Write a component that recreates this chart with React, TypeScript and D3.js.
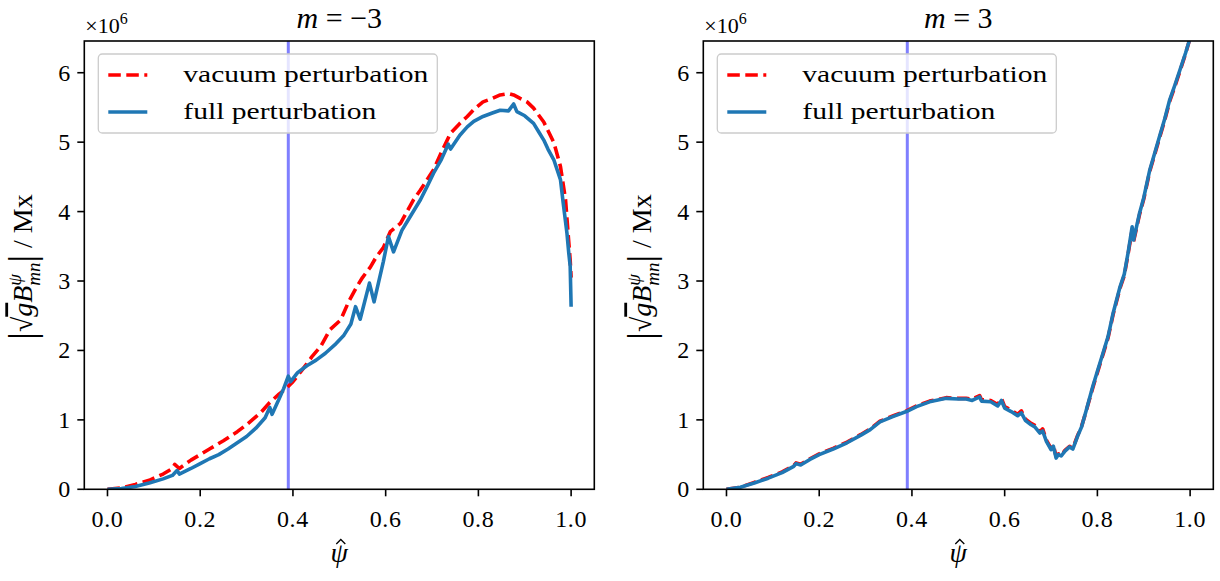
import React from "react";
import * as d3 from "d3";

// ---------- data (values in units of 1e6 Mx) ----------
const leftFullX = [0, 0.03, 0.06, 0.09, 0.12, 0.14, 0.15, 0.155, 0.18, 0.2, 0.22, 0.24, 0.26, 0.28, 0.3, 0.32, 0.34, 0.35, 0.355, 0.37, 0.38, 0.39, 0.395, 0.41, 0.43, 0.45, 0.47, 0.49, 0.51, 0.525, 0.535, 0.545, 0.565, 0.575, 0.595, 0.606, 0.617, 0.635, 0.655, 0.675, 0.69, 0.703, 0.72, 0.735, 0.74, 0.76, 0.776, 0.79, 0.81, 0.83, 0.847, 0.865, 0.876, 0.883, 0.9, 0.919, 0.93, 0.941, 0.95, 0.963, 0.977, 0.983, 0.991, 0.995, 0.998, 1.0];
const leftFullY = [0, 0.01, 0.04, 0.09, 0.15, 0.2, 0.27, 0.22, 0.3, 0.37, 0.44, 0.5, 0.58, 0.67, 0.76, 0.88, 1.03, 1.18, 1.08, 1.3, 1.45, 1.63, 1.55, 1.68, 1.78, 1.86, 1.96, 2.08, 2.22, 2.38, 2.63, 2.45, 2.97, 2.7, 3.28, 3.64, 3.42, 3.73, 3.95, 4.17, 4.37, 4.55, 4.75, 4.97, 4.9, 5.1, 5.22, 5.3, 5.37, 5.42, 5.46, 5.45, 5.55, 5.44, 5.38, 5.27, 5.15, 5.03, 4.9, 4.74, 4.46, 4.12, 3.69, 3.4, 3.21, 2.63];

const leftVacX = [0, 0.03, 0.06, 0.09, 0.12, 0.14, 0.145, 0.155, 0.18, 0.2, 0.22, 0.25, 0.28, 0.3, 0.33, 0.35, 0.37, 0.385, 0.4, 0.42, 0.441, 0.46, 0.48, 0.503, 0.52, 0.538, 0.55, 0.567, 0.58, 0.595, 0.61, 0.632, 0.66, 0.675, 0.703, 0.72, 0.74, 0.76, 0.776, 0.79, 0.81, 0.83, 0.847, 0.865, 0.876, 0.89, 0.905, 0.919, 0.941, 0.963, 0.977, 0.988, 0.994, 0.998, 1.0];
const leftVacY = [0, 0.02, 0.07, 0.13, 0.22, 0.3, 0.36, 0.3, 0.42, 0.5, 0.58, 0.7, 0.83, 0.93, 1.1, 1.25, 1.37, 1.45, 1.55, 1.72, 1.91, 2.06, 2.3, 2.44, 2.7, 2.92, 3.05, 3.2, 3.35, 3.48, 3.71, 3.83, 4.17, 4.31, 4.6, 4.85, 5.13, 5.27, 5.37, 5.47, 5.58, 5.63, 5.68, 5.7, 5.68, 5.63, 5.58, 5.49, 5.29, 4.99, 4.65, 4.17, 3.64, 3.3, 3.05];

const rightFullX = [0, 0.03, 0.06, 0.09, 0.12, 0.145, 0.15, 0.16, 0.18, 0.2, 0.23, 0.26, 0.29, 0.31, 0.331, 0.36, 0.388, 0.41, 0.438, 0.474, 0.5, 0.517, 0.53, 0.546, 0.55, 0.57, 0.585, 0.593, 0.6, 0.614, 0.628, 0.636, 0.645, 0.657, 0.665, 0.676, 0.682, 0.69, 0.7, 0.705, 0.711, 0.716, 0.722, 0.73, 0.74, 0.747, 0.757, 0.766, 0.776, 0.79, 0.8, 0.812, 0.823, 0.834, 0.849, 0.858, 0.866, 0.875, 0.878, 0.891, 0.9, 0.913, 0.924, 0.934, 0.945, 0.956, 0.967, 0.978, 0.99, 1.0];
const rightFullY = [0, 0.03, 0.09, 0.16, 0.24, 0.33, 0.37, 0.35, 0.43, 0.5, 0.58, 0.67, 0.78, 0.86, 0.97, 1.05, 1.12, 1.19, 1.26, 1.31, 1.3, 1.3, 1.28, 1.33, 1.27, 1.26, 1.2, 1.28, 1.17, 1.12, 1.06, 1.1, 0.99, 0.93, 0.9, 0.81, 0.84, 0.69, 0.57, 0.62, 0.45, 0.5, 0.48, 0.55, 0.61, 0.58, 0.76, 0.9, 1.14, 1.48, 1.7, 1.96, 2.2, 2.54, 2.92, 3.1, 3.4, 3.78, 3.59, 3.98, 4.2, 4.6, 4.85, 5.08, 5.33, 5.61, 5.82, 6.04, 6.28, 6.5];

const rightVacX = [0, 0.03, 0.06, 0.09, 0.12, 0.145, 0.15, 0.16, 0.18, 0.2, 0.23, 0.26, 0.29, 0.31, 0.331, 0.36, 0.388, 0.41, 0.438, 0.474, 0.5, 0.517, 0.53, 0.546, 0.55, 0.57, 0.585, 0.593, 0.6, 0.614, 0.628, 0.636, 0.645, 0.657, 0.665, 0.676, 0.682, 0.69, 0.7, 0.705, 0.711, 0.716, 0.722, 0.73, 0.74, 0.747, 0.757, 0.766, 0.776, 0.79, 0.8, 0.812, 0.823, 0.834, 0.849, 0.858, 0.866, 0.875, 0.878, 0.891, 0.9, 0.913, 0.924, 0.934, 0.945, 0.956, 0.967, 0.978, 0.99, 1.0];
const rightVacY = [0, 0.03, 0.1, 0.17, 0.25, 0.34, 0.38, 0.36, 0.44, 0.51, 0.59, 0.68, 0.79, 0.87, 0.98, 1.06, 1.13, 1.2, 1.27, 1.32, 1.31, 1.31, 1.3, 1.35, 1.29, 1.28, 1.22, 1.31, 1.19, 1.14, 1.08, 1.13, 1.01, 0.95, 0.92, 0.83, 0.87, 0.71, 0.59, 0.64, 0.47, 0.51, 0.49, 0.56, 0.62, 0.59, 0.77, 0.91, 1.13, 1.46, 1.68, 1.94, 2.18, 2.52, 2.9, 3.08, 3.38, 3.74, 3.57, 3.96, 4.18, 4.58, 4.83, 5.06, 5.31, 5.59, 5.8, 6.02, 6.27, 6.5];

const xTicks = [0.0, 0.2, 0.4, 0.6, 0.8, 1.0];
const yTicks = [0, 1, 2, 3, 4, 5, 6];
const seriesNames = ["vacuum perturbation", "full perturbation"];
const markerPsi = 0.39;
const titles = ["\u22123", "3"];

const FONT = "Liberation Serif";

type PanelProps = {
  left: number;
  title: string;
  vacX: number[];
  vacY: number[];
  fullX: number[];
  fullY: number[];
  id: string;
};

const TOP = 41;
const BOTTOM = 489.3;
const WIDTH = 510;
const LW = 3.6;
const DASH = "12.5,5.5";

function Panel({ left, title, vacX, vacY, fullX, fullY, id }: PanelProps) {
  const x = d3.scaleLinear().domain([-0.05, 1.05]).range([left, left + WIDTH]);
  const y = d3.scaleLinear().domain([0, 6.457]).range([BOTTOM, TOP]);
  const line = d3
    .line<[number, number]>()
    .x((d) => x(d[0]))
    .y((d) => y(d[1]));
  const vac = line(vacX.map((v, i) => [v, vacY[i]]) as [number, number][]) || "";
  const full = line(fullX.map((v, i) => [v, fullY[i]]) as [number, number][]) || "";
  const cx = left + WIDTH / 2;
  const lx = left + 14;
  return (
    <g style={{ fontFamily: FONT }}>
      <defs>
        <clipPath id={id}>
          <rect x={left} y={TOP} width={WIDTH} height={BOTTOM - TOP} />
        </clipPath>
      </defs>
      <g clipPath={`url(#${id})`}>
        <line x1={x(markerPsi)} x2={x(markerPsi)} y1={TOP} y2={BOTTOM} stroke="#0000ff" strokeOpacity={0.5} strokeWidth={3} />
        <path d={vac} fill="none" stroke="#ff0000" strokeWidth={LW} strokeDasharray={DASH} strokeLinejoin="round" />
        <path d={full} fill="none" stroke="#1f77b4" strokeWidth={LW} strokeLinejoin="round" strokeLinecap="butt" />
      </g>
      {/* legend */}
      <rect x={lx} y={54} width={339} height={79} rx={4} fill="#ffffff" fillOpacity={0.8} stroke="#cccccc" strokeWidth={1.3} />
      <line x1={lx + 10} x2={lx + 49} y1={75} y2={75} stroke="#ff0000" strokeWidth={LW} strokeDasharray={DASH} />
      <line x1={lx + 10} x2={lx + 49} y1={112} y2={112} stroke="#1f77b4" strokeWidth={LW} />
      <text x={lx + 85} y={82} fontSize={24} fill="#000" textLength={245} lengthAdjust="spacingAndGlyphs">{seriesNames[0]}</text>
      <text x={lx + 85} y={119} fontSize={24} fill="#000" textLength={193} lengthAdjust="spacingAndGlyphs">{seriesNames[1]}</text>
      {/* frame */}
      <rect x={left} y={TOP} width={WIDTH} height={BOTTOM - TOP} fill="none" stroke="#000" strokeWidth={1.6} />
      {/* x ticks */}
      {xTicks.map((t) => (
        <g key={`x${t}`}>
          <line x1={x(t)} x2={x(t)} y1={BOTTOM} y2={BOTTOM + 7} stroke="#000" strokeWidth={1.6} />
          <text x={x(t)} y={BOTTOM + 38} textAnchor="middle" fontSize={24} letterSpacing={0.6}>{t.toFixed(1)}</text>
        </g>
      ))}
      {/* y ticks */}
      {yTicks.map((t) => (
        <g key={`y${t}`}>
          <line x1={left - 7} x2={left} y1={y(t)} y2={y(t)} stroke="#000" strokeWidth={1.6} />
          <text x={left - 14} y={y(t) + 8} textAnchor="end" fontSize={24}>{t}</text>
        </g>
      ))}
      {/* offset text */}
      <text x={left + 1} y={33} fontSize={22}>
        ×10<tspan dy={-9} fontSize={16}>6</tspan>
      </text>
      {/* title */}
      <text x={cx} y={28} textAnchor="middle" fontSize={30}>
        <tspan fontStyle="italic">m</tspan> = {title}
      </text>
      {/* x label: psi with hat accent drawn as a stroke */}
      <text x={cx} y={562} textAnchor="middle" fontSize={28} fontStyle="italic">ψ</text>
      <path d={`M${cx - 3},544 L${cx + 1.5},539.5 L${cx + 6},544`} fill="none" stroke="#000" strokeWidth={1.3} />
      {/* y label */}
      <text transform={`translate(${left - 52}, 267) rotate(-90)`} textAnchor="middle" fontSize={28}>
        <tspan fontSize={38} dy={3}>|</tspan>
        <tspan dy={-3}>√</tspan>
        <tspan fontStyle="italic" textDecoration="overline">g</tspan>
        <tspan fontStyle="italic">B</tspan>
        <tspan fontStyle="italic" fontSize={19} dy={-11}>ψ</tspan>
        <tspan fontStyle="italic" fontSize={19} dx={-12} dy={19}>mn</tspan>
        <tspan fontSize={38} dy={-5}>|</tspan>
        <tspan dy={-3}> / Mx</tspan>
      </text>
    </g>
  );
}

export default function App() {
  return (
    <svg width={1220} height={581} style={{ display: "block", position: "absolute", left: 0, top: 0, background: "#fff" }}>
      <rect x={0} y={0} width={1220} height={581} fill="#fff" />
      <Panel left={84.3} title={titles[0]} vacX={leftVacX} vacY={leftVacY} fullX={leftFullX} fullY={leftFullY} id="clipL" />
      <Panel left={703.3} title={titles[1]} vacX={rightVacX} vacY={rightVacY} fullX={rightFullX} fullY={rightFullY} id="clipR" />
    </svg>
  );
}
